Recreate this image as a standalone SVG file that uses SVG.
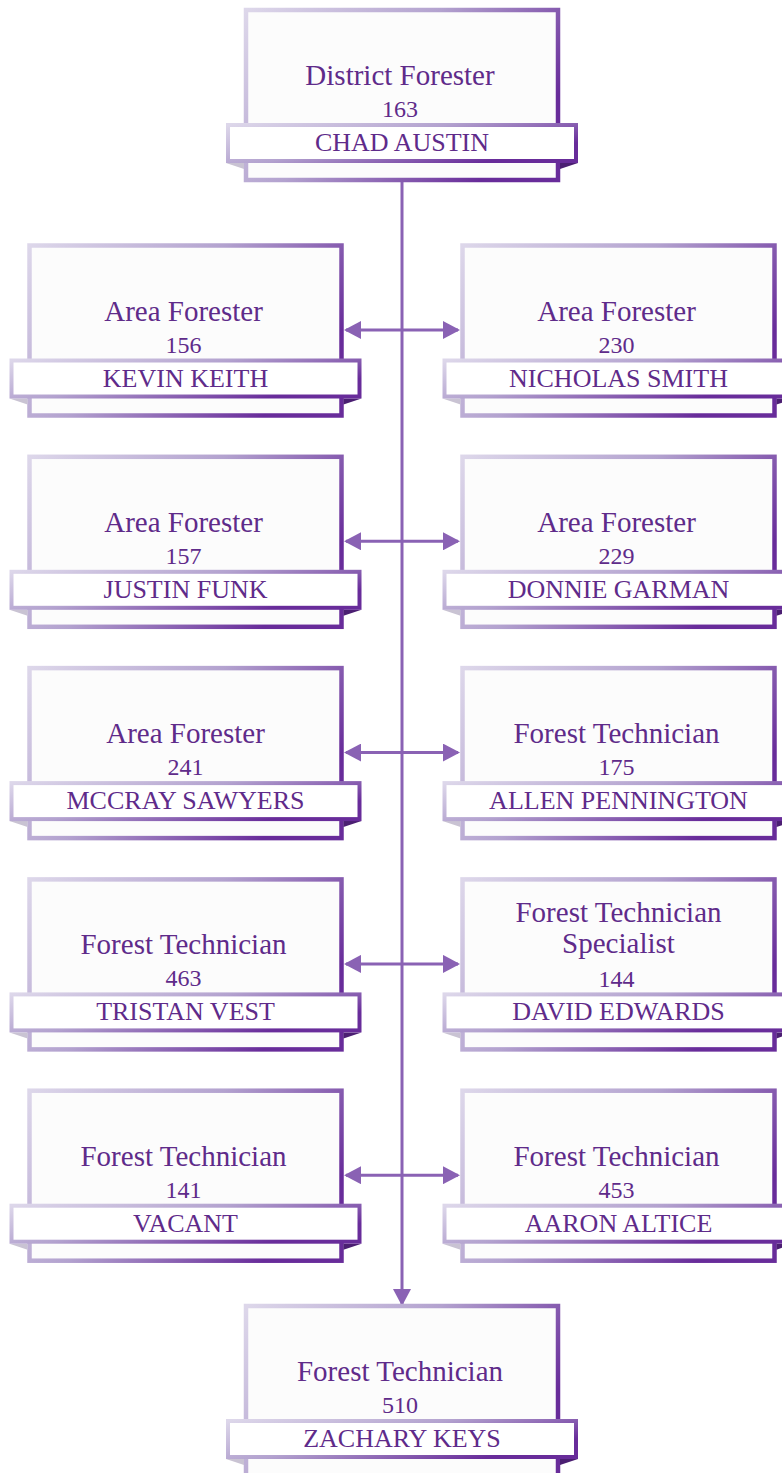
<svg xmlns="http://www.w3.org/2000/svg" width="782" height="1473" viewBox="0 0 782 1473">
<defs>
<linearGradient id="g" x1="0" y1="0" x2="1" y2="0.5">
<stop offset="0" stop-color="#ddd7ea"/>
<stop offset="0.5" stop-color="#b3a2cf"/>
<stop offset="1" stop-color="#682c9a"/>
</linearGradient>
<marker id="ah" viewBox="0 0 17 18" refX="15" refY="9" markerWidth="17" markerHeight="18" markerUnits="userSpaceOnUse" orient="auto-start-reverse">
<path d="M0,0 L17,9 L0,18 z" fill="#8a62b4"/>
</marker>
<style>
.box{fill:#fcfcfc;stroke:url(#g);stroke-width:4.5}
.band{fill:#ffffff;stroke:url(#g);stroke-width:4}
.fl{fill:#c9c3d3}
.fr{fill:#4b1f72}
.t{font-family:"Liberation Serif",serif;font-size:29px;fill:#5f2b8a;text-anchor:middle}
.n{font-family:"Liberation Serif",serif;font-size:24px;fill:#5f2b8a;text-anchor:middle}
.nm{font-family:"Liberation Serif",serif;font-size:26px;fill:#5f2b8a;text-anchor:middle}
.c{stroke:#8a62b4;stroke-width:3;fill:none}
</style>
</defs>

<g id="connectors">
<line class="c" x1="402" y1="181" x2="402" y2="1304" marker-end="url(#ah)"/>
<line class="c" x1="346" y1="330" x2="458" y2="330" marker-start="url(#ah)" marker-end="url(#ah)"/>
<line class="c" x1="346" y1="541.3" x2="458" y2="541.3" marker-start="url(#ah)" marker-end="url(#ah)"/>
<line class="c" x1="346" y1="752.6" x2="458" y2="752.6" marker-start="url(#ah)" marker-end="url(#ah)"/>
<line class="c" x1="346" y1="963.9" x2="458" y2="963.9" marker-start="url(#ah)" marker-end="url(#ah)"/>
<line class="c" x1="346" y1="1175.2" x2="458" y2="1175.2" marker-start="url(#ah)" marker-end="url(#ah)"/>
</g>

<g id="node-district-forester" transform="translate(246,10)">
<rect class="box" x="0" y="0" width="312" height="170"/>
<polygon class="fl" points="-20,153 -2,153 -2,159"/>
<polygon class="fr" points="314,153 332,153 314,159"/>
<rect class="band" x="-18" y="115" width="348" height="36"/>
<text class="t" x="154" y="75">District Forester</text>
<text class="n" x="154" y="107">163</text>
<text class="nm" x="156" y="141">CHAD AUSTIN</text>
</g>

<g id="node-kevin-keith" transform="translate(29.5,245.5)">
<rect class="box" x="0" y="0" width="312" height="170"/>
<polygon class="fl" points="-20,153 -2,153 -2,159"/>
<polygon class="fr" points="314,153 332,153 314,159"/>
<rect class="band" x="-18" y="115" width="348" height="36"/>
<text class="t" x="154" y="75">Area Forester</text>
<text class="n" x="154" y="107">156</text>
<text class="nm" x="156" y="141">KEVIN KEITH</text>
</g>

<g id="node-nicholas-smith" transform="translate(462.5,245.5)">
<rect class="box" x="0" y="0" width="312" height="170"/>
<polygon class="fl" points="-20,153 -2,153 -2,159"/>
<polygon class="fr" points="314,153 332,153 314,159"/>
<rect class="band" x="-18" y="115" width="348" height="36"/>
<text class="t" x="154" y="75">Area Forester</text>
<text class="n" x="154" y="107">230</text>
<text class="nm" x="156" y="141">NICHOLAS SMITH</text>
</g>

<g id="node-justin-funk" transform="translate(29.5,456.8)">
<rect class="box" x="0" y="0" width="312" height="170"/>
<polygon class="fl" points="-20,153 -2,153 -2,159"/>
<polygon class="fr" points="314,153 332,153 314,159"/>
<rect class="band" x="-18" y="115" width="348" height="36"/>
<text class="t" x="154" y="75">Area Forester</text>
<text class="n" x="154" y="107">157</text>
<text class="nm" x="156" y="141">JUSTIN FUNK</text>
</g>

<g id="node-donnie-garman" transform="translate(462.5,456.8)">
<rect class="box" x="0" y="0" width="312" height="170"/>
<polygon class="fl" points="-20,153 -2,153 -2,159"/>
<polygon class="fr" points="314,153 332,153 314,159"/>
<rect class="band" x="-18" y="115" width="348" height="36"/>
<text class="t" x="154" y="75">Area Forester</text>
<text class="n" x="154" y="107">229</text>
<text class="nm" x="156" y="141">DONNIE GARMAN</text>
</g>

<g id="node-mccray-sawyers" transform="translate(29.5,668.1)">
<rect class="box" x="0" y="0" width="312" height="170"/>
<polygon class="fl" points="-20,153 -2,153 -2,159"/>
<polygon class="fr" points="314,153 332,153 314,159"/>
<rect class="band" x="-18" y="115" width="348" height="36"/>
<text class="t" x="156" y="75">Area Forester</text>
<text class="n" x="156" y="107">241</text>
<text class="nm" x="156" y="141">MCCRAY SAWYERS</text>
</g>

<g id="node-allen-pennington" transform="translate(462.5,668.1)">
<rect class="box" x="0" y="0" width="312" height="170"/>
<polygon class="fl" points="-20,153 -2,153 -2,159"/>
<polygon class="fr" points="314,153 332,153 314,159"/>
<rect class="band" x="-18" y="115" width="348" height="36"/>
<text class="t" x="154" y="75">Forest Technician</text>
<text class="n" x="154" y="107">175</text>
<text class="nm" x="156" y="141">ALLEN PENNINGTON</text>
</g>

<g id="node-tristan-vest" transform="translate(29.5,879.4)">
<rect class="box" x="0" y="0" width="312" height="170"/>
<polygon class="fl" points="-20,153 -2,153 -2,159"/>
<polygon class="fr" points="314,153 332,153 314,159"/>
<rect class="band" x="-18" y="115" width="348" height="36"/>
<text class="t" x="154" y="75">Forest Technician</text>
<text class="n" x="154" y="107">463</text>
<text class="nm" x="156" y="141">TRISTAN VEST</text>
</g>

<g id="node-david-edwards" transform="translate(462.5,879.4)">
<rect class="box" x="0" y="0" width="312" height="170"/>
<polygon class="fl" points="-20,153 -2,153 -2,159"/>
<polygon class="fr" points="314,153 332,153 314,159"/>
<rect class="band" x="-18" y="115" width="348" height="36"/>
<text class="t" x="156" y="43">Forest Technician</text>
<text class="t" x="156" y="74">Specialist</text>
<text class="n" x="154" y="108">144</text>
<text class="nm" x="156" y="141">DAVID EDWARDS</text>
</g>

<g id="node-vacant" transform="translate(29.5,1090.7)">
<rect class="box" x="0" y="0" width="312" height="170"/>
<polygon class="fl" points="-20,153 -2,153 -2,159"/>
<polygon class="fr" points="314,153 332,153 314,159"/>
<rect class="band" x="-18" y="115" width="348" height="36"/>
<text class="t" x="154" y="75">Forest Technician</text>
<text class="n" x="154" y="107">141</text>
<text class="nm" x="156" y="141">VACANT</text>
</g>

<g id="node-aaron-altice" transform="translate(462.5,1090.7)">
<rect class="box" x="0" y="0" width="312" height="170"/>
<polygon class="fl" points="-20,153 -2,153 -2,159"/>
<polygon class="fr" points="314,153 332,153 314,159"/>
<rect class="band" x="-18" y="115" width="348" height="36"/>
<text class="t" x="154" y="75">Forest Technician</text>
<text class="n" x="154" y="107">453</text>
<text class="nm" x="156" y="141">AARON ALTICE</text>
</g>

<g id="node-zachary-keys" transform="translate(246,1306)">
<rect class="box" x="0" y="0" width="312" height="170"/>
<polygon class="fl" points="-20,153 -2,153 -2,159"/>
<polygon class="fr" points="314,153 332,153 314,159"/>
<rect class="band" x="-18" y="115" width="348" height="36"/>
<text class="t" x="154" y="75">Forest Technician</text>
<text class="n" x="154" y="107">510</text>
<text class="nm" x="156" y="141">ZACHARY KEYS</text>
</g>
</svg>
